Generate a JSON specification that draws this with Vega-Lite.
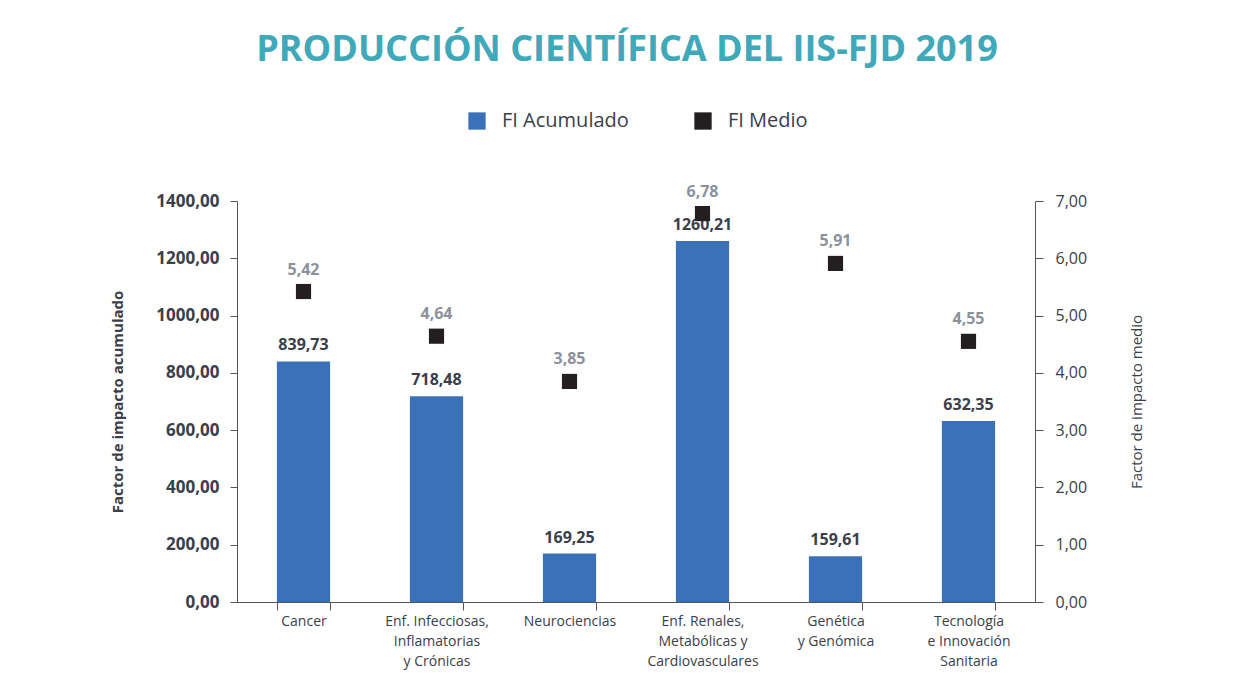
{
  "$schema": "https://vega.github.io/schema/vega-lite/v6.json",
  "width": 798,
  "height": 401,
  "autosize": {"type": "none"},
  "padding": {"left": 237, "top": 201, "right": 210, "bottom": 91},
  "background": "white",
  "config": {
    "locale": {"number": {"decimal": ",", "thousands": ".", "grouping": [3], "currency": ["", "€"]}},
    "view": {"stroke": null},
    "font": "Open Sans"
  },
  "title": {
    "text": "PRODUCCIÓN CIENTÍFICA DEL IIS-FJD 2019",
    "font": "Open Sans",
    "fontSize": 36,
    "fontWeight": "bold",
    "color": "#40a9b9",
    "anchor": "middle",
    "dx": -9,
    "offset": 42
  },
  "data": {
    "values": [
      {"area": "Cancer", "acumulado": 839.73, "medio": 5.42},
      {"area": "Enf. Infecciosas,|Inflamatorias|y Crónicas", "acumulado": 718.48, "medio": 4.64},
      {"area": "Neurociencias", "acumulado": 169.25, "medio": 3.85},
      {"area": "Enf. Renales,|Metabólicas y|Cardiovasculares", "acumulado": 1260.21, "medio": 6.78},
      {"area": "Genética|y Genómica", "acumulado": 159.61, "medio": 5.91},
      {"area": "Tecnología|e Innovación|Sanitaria", "acumulado": 632.35, "medio": 4.55}
    ]
  },
  "encoding": {
    "x": {
      "field": "area",
      "type": "nominal",
      "sort": null,
      "scale": {"paddingInner": 0.6, "paddingOuter": 0.3},
      "axis": {
        "title": null,
        "labelAngle": 0,
        "labelExpr": "split(datum.label, '|')",
        "labelFont": "Open Sans",
        "labelFontSize": 14,
        "labelLineHeight": 20,
        "labelColor": "#3a404b",
        "labelPadding": 4,
        "labelBaseline": "top",
        "tickBand": "extent",
        "tickSize": 8,
        "tickColor": "#555",
        "domainColor": "#555",
        "grid": false
      }
    }
  },
  "layer": [
    {
      "mark": {"type": "bar", "color": "#3b71b9"},
      "encoding": {
        "y": {
          "field": "acumulado",
          "type": "quantitative",
          "scale": {"domain": [0, 1400], "nice": false},
          "axis": {
            "title": "Factor de impacto acumulado",
            "titleFont": "Open Sans",
            "titleFontSize": 15,
            "titleFontWeight": "bold",
            "titleColor": "#3a404b",
            "titlePadding": 30,
            "values": [0, 200, 400, 600, 800, 1000, 1200, 1400],
            "format": ".2f",
            "labelFont": "Open Sans",
            "labelFontSize": 17,
            "labelFontWeight": "bold",
            "labelColor": "#3a404b",
            "labelPadding": 11,
            "tickSize": 7,
            "tickColor": "#555",
            "domainColor": "#555",
            "grid": false
          }
        },
        "color": {
          "datum": "FI Acumulado",
          "type": "nominal",
          "scale": {"domain": ["FI Acumulado", "FI Medio"], "range": ["#3b71b9", "#231f20"]},
          "legend": {
            "title": null,
            "orient": "none",
            "direction": "horizontal",
            "legendX": 230,
            "legendY": -90,
            "symbolType": "square",
            "symbolSize": 300,
            "symbolStrokeWidth": 0,
            "labelFont": "Open Sans",
            "labelFontSize": 20,
            "labelColor": "#3a404b",
            "labelOffset": 15,
            "columnPadding": 64
          }
        }
      }
    },
    {
      "mark": {"type": "text", "dy": -16, "fontSize": 16, "fontWeight": "bold", "color": "#3a404b", "font": "Open Sans"},
      "encoding": {
        "y": {"field": "acumulado", "type": "quantitative", "scale": {"domain": [0, 1400], "nice": false}, "axis": null},
        "text": {"field": "acumulado", "type": "quantitative", "format": ".2f"}
      }
    },
    {
      "mark": {"type": "point", "shape": "square", "filled": true, "size": 230, "opacity": 1},
      "encoding": {
        "y": {
          "field": "medio",
          "type": "quantitative",
          "scale": {"domain": [0, 7], "nice": false},
          "axis": {
            "orient": "right",
            "title": "Factor de impacto medio",
            "titleAngle": 270,
            "titleFont": "Open Sans",
            "titleFontSize": 15,
            "titleFontWeight": "normal",
            "titleColor": "#3a404b",
            "titlePadding": 58,
            "values": [0, 1, 2, 3, 4, 5, 6, 7],
            "format": ".2f",
            "labelFont": "Open Sans",
            "labelFontSize": 16,
            "labelColor": "#3a404b",
            "labelPadding": 12,
            "tickSize": 8,
            "tickColor": "#555",
            "domainColor": "#555",
            "grid": false
          }
        },
        "color": {"datum": "FI Medio", "type": "nominal"}
      }
    },
    {
      "mark": {"type": "text", "dy": -22, "fontSize": 16, "fontWeight": "bold", "color": "#8c929b", "font": "Open Sans"},
      "encoding": {
        "y": {"field": "medio", "type": "quantitative", "scale": {"domain": [0, 7], "nice": false}, "axis": null},
        "text": {"field": "medio", "type": "quantitative", "format": ".2f"}
      }
    }
  ],
  "resolve": {"scale": {"y": "independent"}}
}
